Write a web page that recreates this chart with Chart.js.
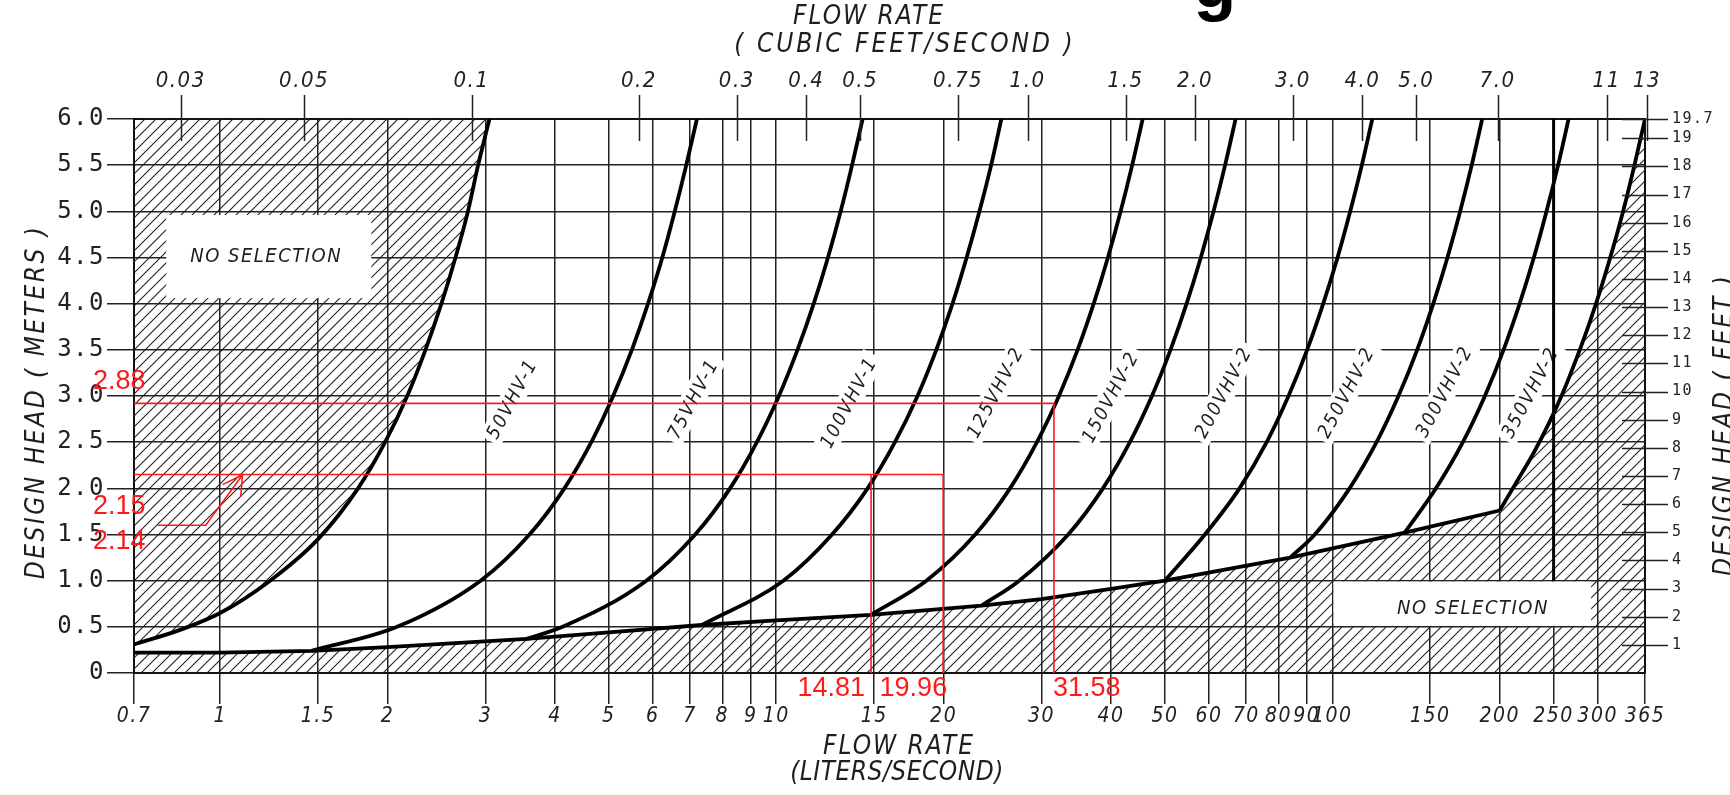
<!DOCTYPE html>
<html><head><meta charset="utf-8">
<script src="https://cdn.jsdelivr.net/npm/chart.js@4.4.1/dist/chart.umd.min.js"></script>
<style>html,body{margin:0;padding:0;background:#fff;overflow:hidden}</style>
</head><body>
<canvas id="c" width="1730" height="795"></canvas>
<script>
// ---------------- data ----------------
const LPS_PER_CFS = 28.3168;
const M_PER_FT = 0.3048;

const bottomTickValues = [0.7,1,1.5,2,3,4,5,6,7,8,9,10,15,20,30,40,50,60,70,80,90,100,150,200,250,300,365];
const bottomTickLabels = ['0.7','1','1.5','2','3','4','5','6','7','8','9','10','15','20','30','40','50','60','70','80','90','100','150','200','250','300','365'];
const topTickValues = [0.03,0.05,0.1,0.2,0.3,0.4,0.5,0.75,1.0,1.5,2.0,3.0,4.0,5.0,7.0,11,13];
const topTickLabels = ['0.03','0.05','0.1','0.2','0.3','0.4','0.5','0.75','1.0','1.5','2.0','3.0','4.0','5.0','7.0','11','13'];
const leftTickValues = [0,0.5,1,1.5,2,2.5,3,3.5,4,4.5,5,5.5,6];
const leftTickLabels = ['0','0.5','1.0','1.5','2.0','2.5','3.0','3.5','4.0','4.5','5.0','5.5','6.0'];
const rightTickValues = [1,2,3,4,5,6,7,8,9,10,11,12,13,14,15,16,17,18,19,19.685];
const rightTickLabels = ['1','2','3','4','5','6','7','8','9','10','11','12','13','14','15','16','17','18','19','19.7'];

const curveNames = ['50VHV-1','75VHV-1','100VHV-1','125VHV-2','150VHV-2','200VHV-2','250VHV-2','300VHV-2','350VHV-2'];

const q50  = [0.70,0.85,1.00,1.23,1.50,1.77,1.98,2.17,2.34,2.50,2.65,2.79,2.91,3.05];
const h50  = [0.31,0.47,0.65,1.00,1.45,2.00,2.50,3.00,3.50,4.00,4.50,5.00,5.50,6.00];
const q75  = [1.46,2.08,2.94,3.60,4.16,4.65,5.09,5.50,5.88,6.24,6.57,6.89,7.20];
const h75  = [0.24,0.50,1.00,1.50,2.00,2.50,3.00,3.50,4.00,4.50,5.00,5.50,6.00];
const q100 = [3.56,4.13,5.84,7.15,8.26,9.23,10.11,10.92,11.68,12.39,13.06,13.69,14.30];
const h100 = [0.37,0.50,1.00,1.50,2.00,2.50,3.00,3.50,4.00,4.50,5.00,5.50,6.00];
const q125 = [7.35,10.30,12.60,14.60,16.35,17.95,19.40,20.75,22.00,23.20,24.35,25.40];
const h125 = [0.52,1.00,1.50,2.00,2.50,3.00,3.50,4.00,4.50,5.00,5.50,6.00];
const q150 = [14.8,18.62,22.80,26.33,29.43,32.24,34.83,37.23,39.49,41.63,43.66,45.60];
const h150 = [0.63,1.00,1.50,2.00,2.50,3.00,3.50,4.00,4.50,5.00,5.50,6.00];
const q200 = [23.4,27.35,33.50,38.68,43.25,47.38,51.17,54.70,58.02,61.16,64.15,67.0];
const h200 = [0.73,1.00,1.50,2.00,2.50,3.00,3.50,4.00,4.50,5.00,5.50,6.00];
const q250 = [50.0,59.0,68.1,76.2,83.4,90.1,96.3,102.2,107.7,113.0,118.0];
const h250 = [1.00,1.50,2.00,2.50,3.00,3.50,4.00,4.50,5.00,5.50,6.00];
const q300 = [84,93,107.4,120.1,131.5,142.1,151.9,161.1,169.8,178.1,186];
const h300 = [1.25,1.50,2.00,2.50,3.00,3.50,4.00,4.50,5.00,5.50,6.00];
const q350 = [135,153.6,171.7,188.1,203.2,217.2,230.4,242.8,254.7,266];
const h350 = [1.52,2.00,2.50,3.00,3.50,4.00,4.50,5.00,5.50,6.00];

// lower limit line (straight segments) and its steep right-hand part
const boundaryQ = [0.7,1.0,1.46,2.0,3.56,5.0,7.35,10,14.8,23.4,30,40,50,84,135,200];
const boundaryH = [0.22,0.22,0.24,0.28,0.37,0.44,0.52,0.57,0.63,0.73,0.80,0.91,1.00,1.25,1.52,1.76];
const steepQ = [200,215,230,245,260,275,290,305,320,335,350,365];
const steepH = [1.76,2.08,2.38,2.70,3.04,3.41,3.79,4.19,4.61,5.05,5.52,6.00];

const cutoffQ = [250,250];
const cutoffH = [6.0,1.0];

const labelQ = [3.35,7.09,13.5,24.8,39.9,63.7,106,159,227];
const labelH = [2.97,2.97,2.93,3.04,2.99,3.04,3.04,3.05,3.04];

const redAQ = [0.7,31.58,31.58];  const redAH = [2.92,2.92,0];
const redBQ = [0.7,19.96,19.96];  const redBH = [2.15,2.15,0];
const redCQ = [14.81,14.81];      const redCH = [2.15,0];
const arrowQ = [0.771,0.942,1.097]; const arrowH = [1.60,1.60,2.145];
const arrowHeadQ = [1.01,1.097,1.089]; const arrowHeadH = [2.04,2.145,1.91];

const redLeftLabels = ['2.88','2.15','2.14'];
const redLeftH = [3.16,1.80,1.42];
const redBottomLabels = ['14.81','19.96','31.58'];
const redBottomQ = [14.81,19.96,31.58];

const boxes = [
  {q0:0.80, q1:1.87, h0:4.06, h1:4.96, tq:1.21, th:4.51},
  {q0:100.5, q1:292, h0:0.51, h1:0.99, tq:179, th:0.70}
];

// ---------------- helpers ----------------
const CAD = "'DejaVu Sans Condensed','DejaVu Sans',sans-serif";
const MONO = "'DejaVu Sans Mono',monospace";
const pts = (qs, hs) => qs.map((q, i) => ({x: q, y: hs[i]}));

function makeHatch() {
  const s = 11;
  const c = document.createElement('canvas'); c.width = s; c.height = s;
  const g = c.getContext('2d');
  g.strokeStyle = '#222'; g.lineWidth = 1.1;
  g.beginPath();
  g.moveTo(-1, s + 1); g.lineTo(s + 1, -1);
  g.moveTo(-s/2 - 1, s/2 + 1); g.lineTo(s/2 + 1, -s/2 - 1);
  g.moveTo(s/2 - 1, s*1.5 + 1); g.lineTo(s*1.5 + 1, s/2 - 1);
  g.stroke();
  return g.createPattern(c, 'repeat');
}
const hatch = makeHatch();

const curveStyle = {borderColor:'#000', borderWidth:3.8, pointRadius:0, fill:false, cubicInterpolationMode:'monotone', order:1};
const redStyle = {borderColor:'#ff1a1a', borderWidth:1.6, pointRadius:0, fill:false, tension:0, order:0};

const datasets = [
  Object.assign({}, curveStyle, {data: pts(boundaryQ, boundaryH), fill:'start', backgroundColor:hatch, order:5, cubicInterpolationMode:'default', tension:0}),
  Object.assign({}, curveStyle, {data: pts(steepQ, steepH), fill:'start', backgroundColor:hatch, order:5}),
  Object.assign({}, curveStyle, {data: pts(q50, h50), fill:'end', backgroundColor:hatch, order:5}),
  Object.assign({}, curveStyle, {data: pts(q75, h75)}),
  Object.assign({}, curveStyle, {data: pts(q100, h100)}),
  Object.assign({}, curveStyle, {data: pts(q125, h125)}),
  Object.assign({}, curveStyle, {data: pts(q150, h150)}),
  Object.assign({}, curveStyle, {data: pts(q200, h200)}),
  Object.assign({}, curveStyle, {data: pts(q250, h250)}),
  Object.assign({}, curveStyle, {data: pts(q300, h300)}),
  Object.assign({}, curveStyle, {data: pts(q350, h350)}),
  Object.assign({}, curveStyle, {data: pts(cutoffQ, cutoffH), borderWidth:3, cubicInterpolationMode:'default', tension:0}),
  Object.assign({}, redStyle, {data: pts(redAQ, redAH)}),
  Object.assign({}, redStyle, {data: pts(redBQ, redBH)}),
  Object.assign({}, redStyle, {data: pts(redCQ, redCH)}),
  Object.assign({}, redStyle, {data: pts(arrowQ, arrowH)}),
  Object.assign({}, redStyle, {data: pts(arrowHeadQ, arrowHeadH)})
];

function spaced(ctx, px) { try { ctx.letterSpacing = px; } catch(e) {} }

const decor = {
  id: 'decor',
  beforeDraw(chart) { spaced(chart.ctx, '1.5px'); },
  beforeDatasetsDraw(chart) {
    const {ctx} = chart; const xs = chart.scales.x, ys = chart.scales.y;
    ctx.save();
    ctx.font = `oblique 19px ${CAD}`;
    spaced(ctx, '2px');
    curveNames.forEach((name, i) => {
      const px = xs.getPixelForValue(labelQ[i]), py = ys.getPixelForValue(labelH[i]);
      ctx.save();
      ctx.translate(px, py); ctx.rotate(-62 * Math.PI / 180);
      const w = ctx.measureText(name).width;
      ctx.fillStyle = '#fff'; ctx.fillRect(-w/2 - 4, -12, w + 8, 24);
      ctx.fillStyle = '#1e1e1e'; ctx.textAlign = 'center'; ctx.textBaseline = 'middle';
      ctx.fillText(name, 0, 1);
      ctx.restore();
    });
    ctx.restore();
  },
  afterDatasetsDraw(chart) {
    const {ctx, chartArea: ca} = chart;
    const xs = chart.scales.x, ys = chart.scales.y, xt = chart.scales.xTop, yr = chart.scales.y2;
    ctx.save();
    boxes.forEach(b => {
      const x0 = xs.getPixelForValue(b.q0), x1 = xs.getPixelForValue(b.q1);
      const y0 = ys.getPixelForValue(b.h1), y1 = ys.getPixelForValue(b.h0);
      ctx.fillStyle = '#fff';
      ctx.fillRect(x0, y0, x1 - x0, y1 - y0);
      ctx.font = `oblique 20px ${CAD}`; spaced(ctx, '1.5px');
      ctx.fillStyle = '#1e1e1e'; ctx.textAlign = 'center'; ctx.textBaseline = 'middle';
      ctx.fillText('NO SELECTION', xs.getPixelForValue(b.tq), ys.getPixelForValue(b.th));
    });
    ctx.strokeStyle = '#222'; ctx.lineWidth = 1.5;
    ctx.beginPath();
    topTickValues.forEach(v => {
      const px = Math.round(xt.getPixelForValue(v)) + 0.5;
      ctx.moveTo(px, ca.top - 24); ctx.lineTo(px, ca.top + 22);
    });
    rightTickValues.forEach(v => {
      const py = Math.round(yr.getPixelForValue(v)) + 0.5;
      ctx.moveTo(ca.right - 23, py); ctx.lineTo(ca.right + 23, py);
    });
    ctx.stroke();
    ctx.restore();
  },
  afterDraw(chart) {
    const {ctx, chartArea: ca} = chart;
    const xs = chart.scales.x, ys = chart.scales.y;
    ctx.save();
    // fragment of a large heading above the figure (cut by the top edge)
    ctx.fillStyle = '#000'; ctx.textAlign = 'center'; ctx.textBaseline = 'alphabetic';
    spaced(ctx, '0px');
    ctx.font = `bold 70px 'Liberation Sans', Arial, sans-serif`;
    ctx.fillText('g', 1215, 7);

    ctx.fillStyle = '#1e1e1e'; ctx.textAlign = 'center'; ctx.textBaseline = 'middle';
    ctx.font = `oblique 26px ${CAD}`; spaced(ctx, '2px');
    ctx.fillText('FLOW RATE', 869, 17);
    ctx.fillText('FLOW RATE', 899, 747);
    ctx.save(); ctx.translate(37, 402); ctx.rotate(-Math.PI/2);
    spaced(ctx, '2.5px');
    ctx.fillText('DESIGN HEAD ( METERS )', 0, 0); ctx.restore();
    ctx.save(); ctx.translate(1725, 425); ctx.rotate(-Math.PI/2);
    ctx.fillText('DESIGN HEAD ( FEET )', 0, 0); ctx.restore();
    spaced(ctx, '3px');
    ctx.fillText('( CUBIC FEET/SECOND )', 905, 45);
    spaced(ctx, '0.5px');
    ctx.fillText('(LITERS/SECOND)', 897, 773);

    spaced(ctx, '0px');
    ctx.fillStyle = '#ff1a1a';
    ctx.font = `27px 'Liberation Sans', Arial, sans-serif`;
    ctx.textAlign = 'left';
    redLeftLabels.forEach((t, i) => ctx.fillText(t, ca.left - 41, ys.getPixelForValue(redLeftH[i])));
    const by = ca.bottom + 16;
    ctx.textAlign = 'right';
    ctx.fillText(redBottomLabels[0], xs.getPixelForValue(redBottomQ[0]) - 6, by);
    ctx.fillText(redBottomLabels[1], xs.getPixelForValue(redBottomQ[1]) + 4, by);
    ctx.textAlign = 'left';
    ctx.fillText(redBottomLabels[2], xs.getPixelForValue(redBottomQ[2]) - 1, by);
    ctx.restore();
  }
};

const gridCommon = {color:'#222', lineWidth:1.5, tickColor:'#222', tickWidth:1.5};
const borderCommon = {display:true, color:'#111', width:2};

new Chart(document.getElementById('c'), {
  type: 'line',
  data: {datasets},
  plugins: [decor],
  options: {
    responsive: false, animation: false, events: [],
    layout: {padding: 0},
    plugins: {legend:{display:false}, tooltip:{enabled:false}, title:{display:false}},
    elements: {point:{radius:0}},
    scales: {
      x: {
        type: 'logarithmic', position: 'bottom', min: 0.7, max: 365,
        afterBuildTicks: s => { s.ticks = bottomTickValues.map(v => ({value: v})); },
        afterFit: s => { s.height = 122; },
        ticks: {autoSkip:false, maxRotation:0, minRotation:0, padding:0, color:'#222',
                font:{family:CAD, size:21, style:'italic'}, callback:(v, i) => bottomTickLabels[i]},
        grid: Object.assign({drawTicks:true, tickLength:31}, gridCommon),
        border: borderCommon
      },
      xTop: {
        type: 'logarithmic', position: 'top', min: 0.7 / LPS_PER_CFS, max: 365 / LPS_PER_CFS,
        afterBuildTicks: s => { s.ticks = topTickValues.map(v => ({value: v})); },
        afterFit: s => { s.height = 119; },
        ticks: {autoSkip:false, maxRotation:0, minRotation:0, padding:25, color:'#222',
                font:{family:CAD, size:22, style:'italic'}, callback:(v, i) => topTickLabels[i]},
        grid: Object.assign({drawOnChartArea:false, drawTicks:false}, gridCommon),
        border: borderCommon
      },
      y: {
        type: 'linear', position: 'left', min: 0, max: 6,
        afterBuildTicks: s => { s.ticks = leftTickValues.map(v => ({value: v})); },
        afterFit: s => { s.width = 134; },
        ticks: {crossAlign:'near', padding:2, color:'#222', font:{family:MONO, size:24},
                callback:(v, i) => leftTickLabels[i]},
        grid: Object.assign({drawTicks:true, tickLength:27}, gridCommon),
        border: borderCommon
      },
      y2: {
        type: 'linear', position: 'right', min: 0, max: 6 / M_PER_FT,
        afterBuildTicks: s => { s.ticks = rightTickValues.map(v => ({value: v})); },
        afterFit: s => { s.width = 85; },
        ticks: {padding:27, color:'#222', font:{family:MONO, size:15}, callback:(v, i) => rightTickLabels[i]},
        grid: Object.assign({drawOnChartArea:false, drawTicks:false}, gridCommon),
        border: borderCommon
      }
    }
  }
});
</script>
</body></html>
